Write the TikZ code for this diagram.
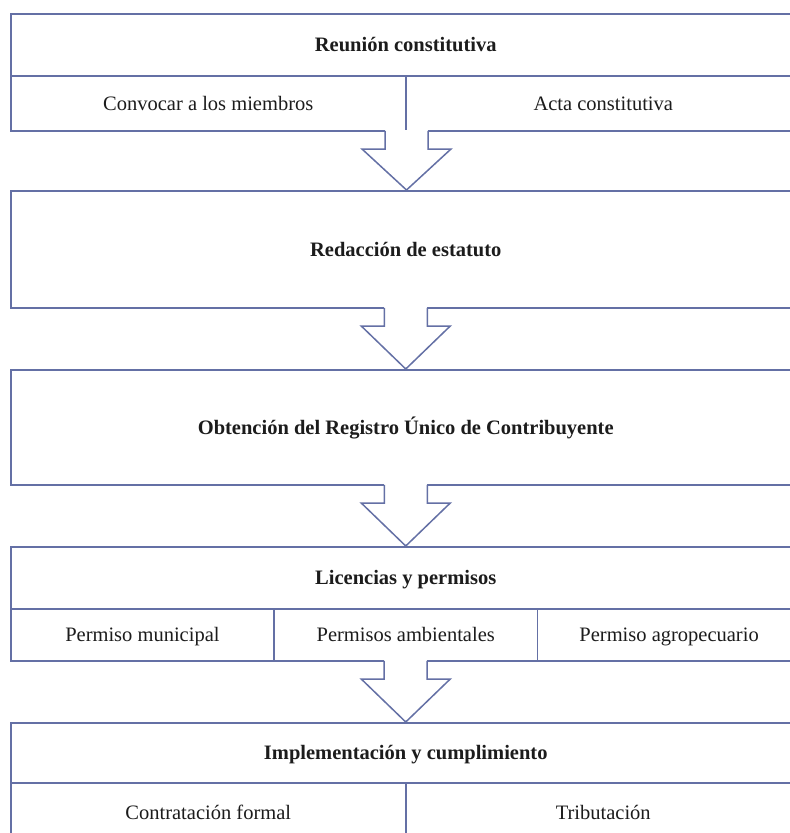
\documentclass[tikz,border=0pt]{standalone}
\usepackage{fontspec}
\setmainfont{Liberation Serif}
\usetikzlibrary{calc}
\definecolor{linecol}{RGB}{100,112,165}
\definecolor{txtcol}{RGB}{28,28,28}
\tikzset{
  cell/.style={draw=linecol, line width=1.5pt, rectangle, inner sep=0pt, anchor=north west,
    text height=16pt, text depth=2.5pt,
    font=\fontsize{20.5}{24}\selectfont, text=txtcol},
  headcell/.style={cell, font=\fontsize{20.5}{24}\selectfont\bfseries},
  flowarrow/.style={draw=linecol, line width=1.5pt, fill=white, line join=miter}
}
\newcommand\mybigarrow[2]{%
  \fill[white] let \p1=#1, \p2=#2 in
    (\x1-21.5pt,\y1+1.5pt) rectangle (\x1+21.5pt,\y1-17.5pt);
  \draw[flowarrow] let \p1=#1, \p2=#2 in
    (\x1-21.5pt,\y1+0.75pt) -- (\x1-21.5pt,\y1-17.5pt) -- (\x1-44.5pt,\y1-17.5pt)
    -- (\x1,\y2) -- (\x1+44.5pt,\y1-17.5pt) -- (\x1+21.5pt,\y1-17.5pt) -- (\x1+21.5pt,\y1+0.75pt);
}
\begin{document}
\begin{tikzpicture}[x=1pt,y=-1pt]
\useasboundingbox (0,0) rectangle (790,833);
\fill[white] (0,0) rectangle (790,833);
\begin{scope}
\clip (0,0) rectangle (790,833);
% Box 1
\node[headcell, minimum width=790pt, minimum height=62pt] (h1) at (10,13) {Reunión constitutiva};
\node[cell, minimum width=395pt, minimum height=55pt] (c11) at (10,75) {Convocar a los miembros};
\node[cell, minimum width=395pt, minimum height=55pt] (c12) at (405,75) {Acta constitutiva};
% Box 2
\node[headcell, minimum width=790pt, minimum height=117pt] (h2) at (10,190) {Redacción de estatuto};
% Box 3
\node[headcell, minimum width=790pt, minimum height=115pt] (h3) at (10,369) {Obtención del Registro Único de Contribuyente};
% Box 4
\node[headcell, minimum width=790pt, minimum height=62pt] (h4) at (10,546) {Licencias y permisos};
\node[cell, minimum width=263.33pt, minimum height=52pt] (c41) at (10,608) {Permiso municipal};
\node[cell, minimum width=263.33pt, minimum height=52pt] (c42) at (273.33,608) {Permisos ambientales};
\node[cell, minimum width=263.33pt, minimum height=52pt] (c43) at (536.67,608) {Permiso agropecuario};
% Box 5
\node[headcell, minimum width=790pt, minimum height=60pt] (h5) at (10,722) {Implementación y cumplimiento};
\node[cell, minimum width=395pt, minimum height=60pt] (c51) at (10,782) {Contratación formal};
\node[cell, minimum width=395pt, minimum height=60pt] (c52) at (405,782) {Tributación};
% Arrows
\mybigarrow{(c11.south east)}{(h2.north)}
\mybigarrow{(h2.south)}{(h3.north)}
\mybigarrow{(h3.south)}{(h4.north)}
\mybigarrow{(c42.south)}{(h5.north)}
\end{scope}
\end{tikzpicture}
\end{document}
